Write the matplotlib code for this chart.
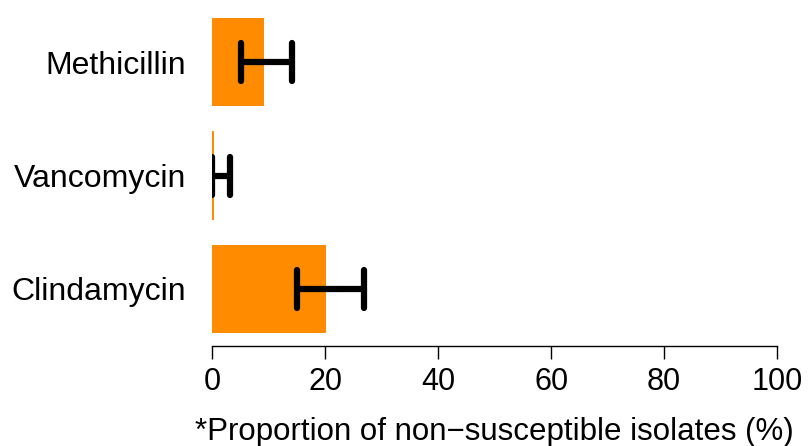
import numpy as np
import matplotlib
matplotlib.use("Agg")
import matplotlib.pyplot as plt
from matplotlib.markers import MarkerStyle

# data
drugs = ["Clindamycin", "Vancomycin", "Methicillin"]
pct = [20.1, 0.3, 9.2]
ci_low = [15.0, 0.0, 5.0]
ci_high = [26.9, 3.1, 14.1]
xticks = [0, 20, 40, 60, 80, 100]
xlabel = "*Proportion of non\u2212susceptible isolates (%)"

plt.rcParams['font.family'] = ['Liberation Sans', 'DejaVu Sans']

fig = plt.figure(figsize=(8.08, 4.46), dpi=100)
ax = fig.add_axes([212.3 / 808, 100.3 / 446, 564.7 / 808, 345.7 / 446])

ypos = np.arange(len(drugs))
ax.barh(ypos, pct, height=0.78, color="#FF8C00", edgecolor="none")

# asymmetric error bars around the estimate
pct_arr = np.array(pct)
xerr = [pct_arr - np.array(ci_low), np.array(ci_high) - pct_arr]
_, caps, bars = ax.errorbar(pct, ypos, xerr=xerr, fmt="none", ecolor="black",
                            elinewidth=4.5, capsize=14, capthick=4.5)
for c in caps:
    c.set_marker(MarkerStyle("|", capstyle="round"))
for b in bars:
    b.set_capstyle("round")

ax.set_xlim(0, 100)
ax.set_ylim(-0.5, 2 + 62.2 / 113.6)
ax.set_xticks(xticks)
ax.set_yticks(ypos)
ax.set_yticklabels(drugs)

for s in ["top", "right", "left"]:
    ax.spines[s].set_visible(False)
ax.spines["bottom"].set_linewidth(1.0)

ax.tick_params(axis="y", length=0, pad=19, labelsize=23)
ax.tick_params(axis="x", length=9.5, width=1.0, pad=6, labelsize=22)
ax.set_xlabel(xlabel, fontsize=22.5, labelpad=14)

fig.savefig("out.png", dpi=100)
